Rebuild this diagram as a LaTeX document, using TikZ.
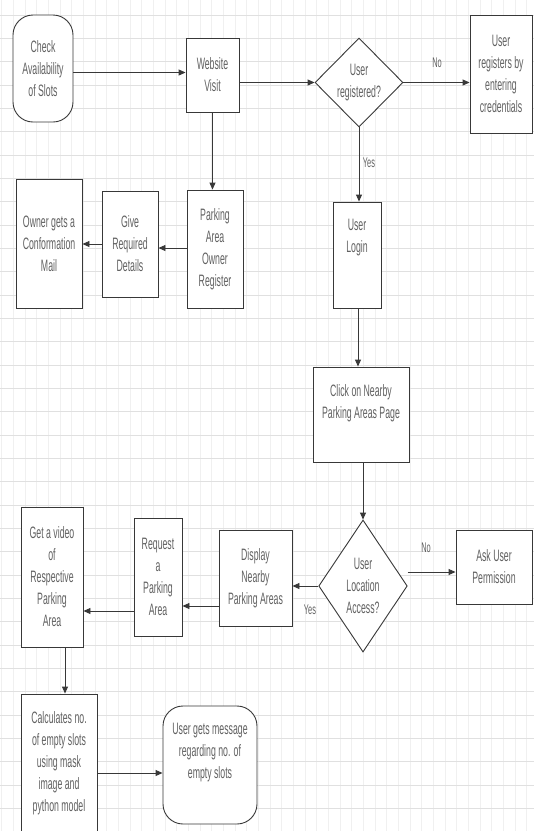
\documentclass[tikz,border=0pt]{standalone}
\usepackage{fontspec}
\setmainfont{Liberation Sans}[FakeStretch=0.53]
\usetikzlibrary{arrows.meta,shapes.geometric,calc}
\begin{document}
\begin{tikzpicture}[x=1pt,y=-1pt,
  lc/.style={draw=black!78, line width=0.9pt},
  txt/.style={font=\fontsize{16.5}{22}\selectfont, text=black!62, align=center},
  box/.style={lc, txt, rectangle, inner sep=0pt, fill=white},
  term/.style={box, rounded corners=20pt},
  dec/.style={lc, txt, diamond, inner sep=0pt, fill=white},
  arr/.style={lc, -{Triangle[length=7pt,width=6pt]}},
  lbl/.style={txt, font=\fontsize{14}{16}\selectfont},
]
\useasboundingbox (0,0) rectangle (534,831);
\fill[white] (0,0) rectangle (534,831);
\foreach \k in {0,...,45} { \draw[black!6, line width=0.6pt] (1.6+11.67*\k,0) -- (1.6+11.67*\k,831); }
\foreach \k in {0,...,35} { \draw[black!12, line width=0.7pt] (0,15+23.33*\k) -- (534,15+23.33*\k); }

% nodes
\node[term, minimum width=60pt, minimum height=107pt] (check) at (43,68.5) {Check\\Availability\\of Slots};
\node[box, minimum width=53pt, minimum height=74pt] (web) at (212.5,75) {Website\\Visit};
\node[dec, minimum width=88pt, minimum height=89pt] (reg) at (359,82.5) {User\\registered?};
\node[box, minimum width=62pt, minimum height=118pt] (ureg) at (501,74) {User\\registers by\\entering\\credentials};
\node[box, minimum width=56pt, minimum height=118pt] (paor) at (215,249) {Parking\\Area\\Owner\\Register};
\node[box, minimum width=56pt, minimum height=106pt] (give) at (130,244) {Give\\Required\\Details};
\node[box, minimum width=66pt, minimum height=129pt] (owner) at (49,243.5) {Owner gets a\\Conformation\\Mail};
\node[box, minimum width=48pt, minimum height=106pt] (login) at (357,255) {};
\node[txt] (logintxt) at ([yshift=17pt]login.center) {User\\Login};
\node[box, minimum width=96pt, minimum height=95pt] (click) at (361,414.5) {};
\node[txt] (clicktxt) at ([yshift=11pt]click.center) {Click on Nearby\\Parking Areas Page};
\node[dec, minimum width=68pt, minimum height=132pt] (loc) at (363,586) {User\\Location\\Access?};
\node[box, minimum width=76pt, minimum height=74pt] (perm) at (494,567) {Ask User\\Permission};
\node[box, minimum width=73pt, minimum height=96pt] (disp) at (255.5,578) {Display\\Nearby\\Parking Areas};
\node[box, minimum width=48pt, minimum height=118pt] (req) at (158,577) {Request\\a\\Parking\\Area};
\node[box, minimum width=62pt, minimum height=140pt] (video) at (52,577) {Get a video\\of\\Respective\\Parking\\Area};
\node[box, minimum width=76pt, minimum height=138pt] (calc) at (59,763) {Calculates no.\\of empty slots\\using mask\\image and\\python model};
\node[term, minimum width=94pt, minimum height=118pt] (msg) at (210,765) {};
\node[txt] (msgtxt) at ([yshift=12pt]msg.center) {User gets message\\regarding no. of\\empty slots};

% connectors
\coordinate (cout) at ([yshift=-4pt]check.east);
\draw[arr] (cout) -- (cout -| web.west);
\draw[arr] (web.east |- reg.west) -- (reg.west);
\draw[arr] (reg.east) -- (reg.east -| ureg.west);
\node[lbl] (no1) at (437,63) {No};
\draw[arr] (reg.south) -- (reg.south |- login.north);
\node[lbl] (yes1) at (369,163) {Yes};
\draw[arr] (web.south) -- (web.south |- paor.north);
\coordinate (pout) at ([yshift=1pt]paor.west);
\draw[arr] (pout) -- (pout -| give.east);
\draw[arr] (give.west) -- (give.west -| owner.east);
\coordinate (lout) at ([xshift=1pt]login.south);
\draw[arr] (lout) -- (lout |- click.north);
\draw[arr] (loc.north |- click.south) -- (loc.north);
\coordinate (pin) at ([yshift=-5pt]perm.west);
\draw[arr] (loc.east |- pin) -- (pin);
\node[lbl] (no2) at (426,548) {No};
\draw[arr] (loc.west) -- (loc.west -| disp.east);
\node[lbl] (yes2) at (310,610) {Yes};
\coordinate (dout) at ([yshift=-28pt]disp.west);
\draw[arr] (dout) -- (dout -| req.east);
\coordinate (rout) at ([yshift=-34pt]req.west);
\draw[arr] (rout) -- (rout -| video.east);
\coordinate (vout) at ([xshift=13pt]video.south);
\draw[arr] (vout) -- (vout |- calc.north);
\coordinate (kout) at ([yshift=-10pt]calc.east);
\draw[arr] (kout) -- (kout -| msg.west);
\end{tikzpicture}
\end{document}
